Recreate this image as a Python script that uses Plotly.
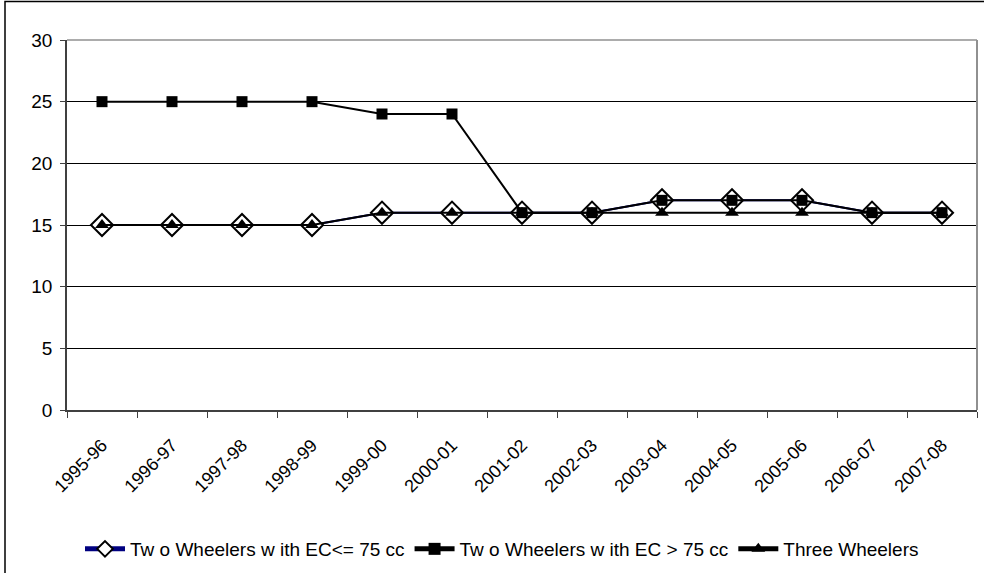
import plotly.graph_objects as go

years = ["1995-96", "1996-97", "1997-98", "1998-99", "1999-00", "2000-01", "2001-02",
         "2002-03", "2003-04", "2004-05", "2005-06", "2006-07", "2007-08"]
two_wheelers_le75 = [15, 15, 15, 15, 16, 16, 16, 16, 17, 17, 17, 16, 16]
two_wheelers_gt75 = [25, 25, 25, 25, 24, 24, 16, 16, 17, 17, 17, 16, 16]
three_wheelers = [15, 15, 15, 15, 16, 16, 16, 16, 16, 16, 16, 16, 16]

names = ["Tw o Wheelers w ith EC<= 75 cc", "Tw o Wheelers w ith EC > 75 cc", "Three Wheelers"]

fig = go.Figure()
fig.add_trace(go.Scatter(
    x=years, y=two_wheelers_le75, name=names[0], mode="lines+markers",
    line=dict(color="#000080", width=2),
    marker=dict(symbol="diamond", size=17, color="white", line=dict(color="black", width=2)),
))
fig.add_trace(go.Scatter(
    x=years, y=two_wheelers_gt75, name=names[1], mode="lines+markers",
    line=dict(color="black", width=2),
    marker=dict(symbol="square", size=11, color="black"),
))
fig.add_trace(go.Scatter(
    x=years, y=three_wheelers, name=names[2], mode="lines+markers",
    line=dict(color="black", width=2),
    marker=dict(symbol="triangle-up", size=12, color="black"),
))

L, T, R, B = 67, 40, 7, 163
PW, PH = 984 - L - R, 573 - T - B

font = "Liberation Sans, Arial, sans-serif"
fig.update_layout(
    width=984, height=573,
    margin=dict(l=L, r=R, t=T, b=B, autoexpand=False),
    paper_bgcolor="white", plot_bgcolor="white",
    font=dict(family=font, size=16, color="black"),
    showlegend=True,
    legend=dict(orientation="h", x=(502 - L) / PW, xanchor="center",
                y=(410 - 549) / PH, yanchor="middle",
                font=dict(size=19), itemwidth=40, itemsizing="constant", tracegroupgap=0),
    xaxis=dict(
        type="category", tickangle=-45, tickson="boundaries", ticks="outside",
        ticklen=6, tickcolor="#404040", showgrid=False, showline=True,
        linecolor="#404040", linewidth=1.5, tickfont=dict(size=18),
        ticklabelstandoff=16,
        range=[-0.5, 12.5], automargin=False,
    ),
    yaxis=dict(
        range=[0, 30], dtick=5, ticks="outside", ticklen=5, tickcolor="#404040",
        showgrid=True, gridcolor="black", gridwidth=1, showline=True,
        linecolor="#404040", linewidth=1.5, tickfont=dict(size=19), zeroline=False,
        ticklabelstandoff=4, automargin=False,
    ),
    shapes=[
        dict(type="line", xref="paper", yref="paper", x0=0, x1=1, y0=1, y1=1,
             line=dict(color="#909090", width=1.5)),
        dict(type="line", xref="paper", yref="paper", x0=1, x1=1, y0=0, y1=1,
             line=dict(color="#909090", width=2)),
        dict(type="rect", xref="paper", yref="paper",
             x0=(5 - L) / PW, x1=1.2, y0=1 + (T - 1.5) / PH, y1=-0.6,
             line=dict(color="black", width=1.5), fillcolor="rgba(0,0,0,0)", layer="below"),
    ],
)

fig.write_html("out.html", config={"displayModeBar": False},
               post_script="document.body.style.margin='0';")
